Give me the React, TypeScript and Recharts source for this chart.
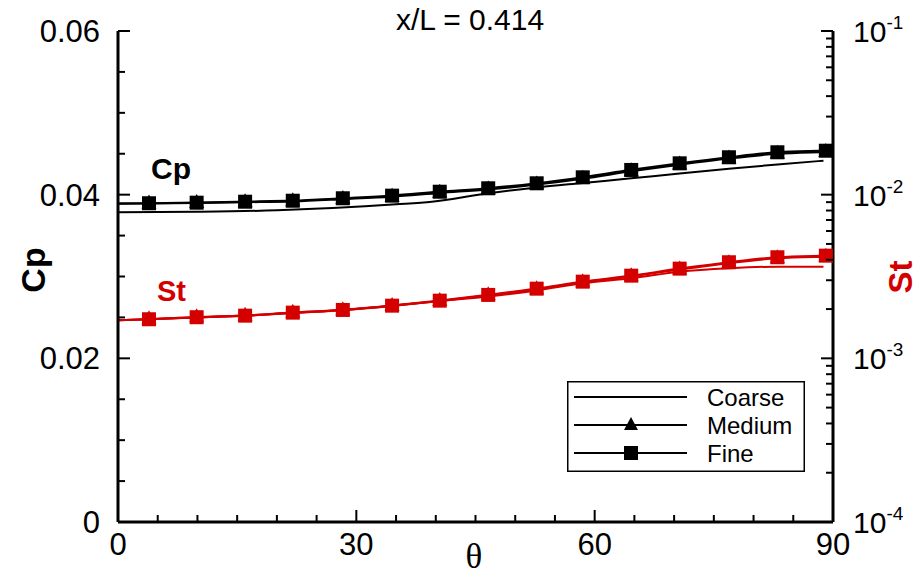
import { ComposedChart, Line, XAxis, YAxis, Legend } from "recharts";

const RED = "#d40000";
const FONT = "'Liberation Sans', Arial, Helvetica, sans-serif";

// theta stations of the fine / medium grids (symbols on all but first and last)
const gridTheta = [0, 3.9, 9.9, 16.0, 22.0, 28.3, 34.5, 40.5, 46.6, 52.7, 58.5, 64.6, 70.7, 76.9, 83.0, 89.1, 90];
const cpFine = [0.03892, 0.03895, 0.03902, 0.03914, 0.03926, 0.03956, 0.03988, 0.04036, 0.04078, 0.04139, 0.04212, 0.04302, 0.04383, 0.04457, 0.04518, 0.04537, 0.0454];
const cpMedium = [0.0389, 0.03892, 0.03898, 0.03908, 0.03919, 0.03946, 0.03976, 0.04022, 0.04064, 0.04124, 0.04196, 0.04286, 0.04368, 0.04443, 0.045, 0.04522, 0.04525];
const stFine = [0.001709, 0.001733, 0.001783, 0.001823, 0.001902, 0.001975, 0.002098, 0.002251, 0.00244, 0.002665, 0.002941, 0.0032, 0.003532, 0.003864, 0.004145, 0.00424, 0.004252];
const stMedium = [0.001709, 0.001733, 0.001783, 0.001823, 0.0019, 0.00197, 0.00209, 0.00224, 0.002425, 0.002645, 0.002915, 0.00317, 0.00349, 0.003815, 0.00409, 0.00418, 0.00419];

// coarse grid
const coarseCpTheta = [0, 10, 20, 27, 35, 39.5, 46.6, 52.7, 58.5, 64.6, 70.7, 76.9, 83.0, 88.8];
const cpCoarse = [0.03785, 0.03791, 0.03809, 0.03837, 0.03882, 0.03914, 0.04018, 0.04088, 0.04143, 0.042, 0.04259, 0.04316, 0.04369, 0.04415];
const coarseStTheta = [0, 10, 20, 30, 40, 46.6, 52.7, 58.5, 64.6, 70.7, 76.9, 83.0, 88.8];
const stCoarse = [0.001709, 0.001778, 0.001867, 0.002003, 0.002227, 0.002388, 0.002599, 0.002875, 0.003086, 0.003385, 0.003551, 0.003632, 0.003632];

const gridNames = ["Coarse", "Medium", "Fine"];

const thetaTicks = [0, 5, 10, 15, 20, 25, 30, 35, 40, 45, 50, 55, 60, 65, 70, 75, 80, 85, 90];
const thetaLabels = [0, 30, 60, 90];
const cpTicks = [0, 0.005, 0.01, 0.015, 0.02, 0.025, 0.03, 0.035, 0.04, 0.045, 0.05, 0.055, 0.06];
const cpLabels = [0, 0.02, 0.04, 0.06];
const stTicks = [
  0.0001, 0.0002, 0.0003, 0.0004, 0.0005, 0.0006, 0.0007, 0.0008, 0.0009,
  0.001, 0.002, 0.003, 0.004, 0.005, 0.006, 0.007, 0.008, 0.009,
  0.01, 0.02, 0.03, 0.04, 0.05, 0.06, 0.07, 0.08, 0.09, 0.1,
];

const rows = (xs: number[], ys: number[]) => xs.map((t, i) => ({ theta: t, v: ys[i] }));

const isIn = (v: number, list: number[]) => list.some((l) => Math.abs(l - v) < 1e-9);

const ThetaTick = ({ x, y, payload }: any) => {
  const major = isIn(payload.value, thetaLabels);
  return (
    <g>
      <line x1={x} y1={y} x2={x} y2={y - (major ? 12 : 7)} stroke="#000" strokeWidth={2} />
      {major && (
        <text x={x} y={y + 33} textAnchor="middle" fontSize={31} fontFamily={FONT} fill="#000">
          {payload.value}
        </text>
      )}
    </g>
  );
};

const CpTick = ({ x, y, payload }: any) => {
  const major = isIn(payload.value, cpLabels);
  return (
    <g>
      <line x1={x} y1={y} x2={x + (major ? 12 : 7)} y2={y} stroke="#000" strokeWidth={2} />
      {major && (
        <text x={x - 18} y={y + 11} textAnchor="end" fontSize={31} fontFamily={FONT} fill="#000">
          {payload.value === 0 ? "0" : payload.value.toFixed(2)}
        </text>
      )}
    </g>
  );
};

const StTick = ({ x, y, payload }: any) => {
  const lg = Math.log10(payload.value);
  const major = Math.abs(lg - Math.round(lg)) < 1e-6;
  return (
    <g>
      <line x1={x} y1={y} x2={x - (major ? 12 : 7)} y2={y} stroke="#000" strokeWidth={2} />
      {major && (
        <text x={x + 20} y={y + 11} fontSize={30} fontFamily={FONT} fill="#000">
          10
          <tspan dy={-13} fontSize={19}>
            {Math.round(lg)}
          </tspan>
        </text>
      )}
    </g>
  );
};

const lastIdx = gridTheta.length - 1;

const squareDot = (color: string) => (p: any) => {
  const { cx, cy, index } = p;
  if (index === 0 || index === lastIdx) return <g key={`s-${index}`} />;
  return <rect key={`s-${index}`} x={cx - 7} y={cy - 7} width={14} height={14} fill={color} />;
};

const triangleDot = (color: string) => (p: any) => {
  const { cx, cy, index } = p;
  if (index === 0 || index === lastIdx) return <g key={`t-${index}`} />;
  return (
    <polygon
      key={`t-${index}`}
      points={`${cx},${cy - 9} ${cx - 7.5},${cy + 5} ${cx + 7.5},${cy + 5}`}
      fill={color}
    />
  );
};

const GridLegend = () => (
  <svg width={238} height={91}>
    <rect x={0.75} y={0.75} width={236.5} height={89.5} fill="#fff" stroke="#000" strokeWidth={1.5} />
    {gridNames.map((name, i) => {
      const y = 16 + i * 28;
      return (
        <g key={name}>
          <line x1={7} y1={y} x2={120} y2={y} stroke="#000" strokeWidth={2} />
          {i === 1 && <polygon points={`64,${y - 8} 57,${y + 5} 71,${y + 5}`} fill="#000" />}
          {i === 2 && <rect x={57} y={y - 7} width={14} height={14} fill="#000" />}
          <text x={140} y={y + 9} fontSize={24} fontFamily={FONT} fill="#000">
            {name}
          </text>
        </g>
      );
    })}
  </svg>
);

export default function App() {
  return (
    <div style={{ position: "absolute", left: 0, top: 0, width: 922, height: 580, background: "#fff", fontFamily: FONT }}>
      <ComposedChart width={922} height={580} margin={{ top: 31, right: 0, bottom: 0, left: 0 }}>
        <XAxis
          type="number"
          dataKey="theta"
          domain={[0, 90]}
          ticks={thetaTicks}
          interval={0}
          tickSize={0}
          tickMargin={0}
          tickLine={false}
          tick={<ThetaTick />}
          height={58}
          axisLine={{ stroke: "#000", strokeWidth: 3 }}
        />
        <YAxis
          yAxisId="cp"
          domain={[0, 0.06]}
          ticks={cpTicks}
          interval={0}
          tickSize={0}
          tickMargin={0}
          tickLine={false}
          tick={<CpTick />}
          width={118}
          axisLine={{ stroke: "#000", strokeWidth: 3 }}
        />
        <YAxis
          yAxisId="st"
          orientation="right"
          scale="log"
          domain={[0.0001, 0.1]}
          allowDataOverflow
          ticks={stTicks}
          interval={0}
          tickSize={0}
          tickMargin={0}
          tickLine={false}
          tick={<StTick />}
          width={89}
          axisLine={{ stroke: "#000", strokeWidth: 3 }}
        />
        <Legend
          layout="vertical"
          align="center"
          verticalAlign="middle"
          content={() => <GridLegend />}
          wrapperStyle={{ left: 567, top: 381, width: 238, height: 91 }}
        />

        <Line yAxisId="cp" data={rows(coarseCpTheta, cpCoarse)} dataKey="v" name="Coarse Cp" stroke="#000" strokeWidth={2} dot={false} type="monotone" isAnimationActive={false} />
        <Line yAxisId="cp" data={rows(gridTheta, cpMedium)} dataKey="v" name="Medium Cp" stroke="#000" strokeWidth={2.2} dot={triangleDot("#000")} type="monotone" isAnimationActive={false} />
        <Line yAxisId="cp" data={rows(gridTheta, cpFine)} dataKey="v" name="Fine Cp" stroke="#000" strokeWidth={2.2} dot={squareDot("#000")} type="monotone" isAnimationActive={false} />

        <Line yAxisId="st" data={rows(coarseStTheta, stCoarse)} dataKey="v" name="Coarse St" stroke={RED} strokeWidth={2} dot={false} type="monotone" isAnimationActive={false} />
        <Line yAxisId="st" data={rows(gridTheta, stMedium)} dataKey="v" name="Medium St" stroke={RED} strokeWidth={2.2} dot={triangleDot(RED)} type="monotone" isAnimationActive={false} />
        <Line yAxisId="st" data={rows(gridTheta, stFine)} dataKey="v" name="Fine St" stroke={RED} strokeWidth={2.2} dot={squareDot(RED)} type="monotone" isAnimationActive={false} />

        <text x={470} y={30} textAnchor="middle" fontSize={30} fontFamily={FONT} fill="#000">
          x/L = 0.414
        </text>
        <text x={151} y={179} fontSize={30} fontWeight="bold" fontFamily={FONT} fill="#000">
          Cp
        </text>
        <text x={157} y={301} fontSize={29} fontWeight="bold" fontFamily={FONT} fill={RED}>
          St
        </text>
        <text transform="translate(45,270) rotate(-90)" textAnchor="middle" fontSize={34} fontWeight="bold" fontFamily={FONT} fill="#000">
          Cp
        </text>
        <text transform="translate(912,277) rotate(-90)" textAnchor="middle" fontSize={33} fontWeight="bold" fontFamily={FONT} fill={RED}>
          St
        </text>
        <text x={474} y={568} textAnchor="middle" fontSize={35} fontFamily="'Liberation Serif', 'Times New Roman', serif" fill="#000">
          θ
        </text>
      </ComposedChart>
    </div>
  );
}
